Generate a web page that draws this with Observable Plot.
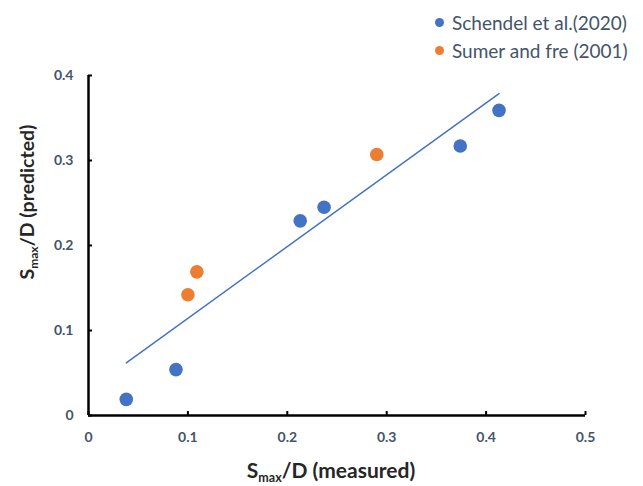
<!DOCTYPE html>
<html>
<head>
<meta charset="utf-8">
<script src="https://cdn.jsdelivr.net/npm/d3@7"></script>
<script src="https://cdn.jsdelivr.net/npm/@observablehq/plot@0.6"></script>
<style>
  body { margin: 0; background: #fff; }
  #chart { position: relative; width: 643px; height: 486px; }
  .legend { position: absolute; left: 435px; top: 8px; font: 19px Lato, sans-serif; color: #44546a; }
  .legend .row { display: flex; align-items: center; height: 28px; }
  .legend .sw { width: 9px; height: 9px; border-radius: 50%; margin-right: 8px; }
</style>
</head>
<body>
<div id="chart"></div>
<script>
// Measured vs predicted relative scour depth, two data sources
const schendelMeasured  = [0.038, 0.088, 0.213, 0.237, 0.374, 0.413];
const schendelPredicted = [0.019, 0.054, 0.229, 0.245, 0.317, 0.359];
const sumerMeasured     = [0.100, 0.109, 0.290];
const sumerPredicted    = [0.142, 0.169, 0.307];

const seriesNames  = ["Schendel et al.(2020)", "Sumer and fre (2001)"];
const seriesColors = ["#4472c4", "#ed7d31"];

const xTicks = [0, 0.1, 0.2, 0.3, 0.4, 0.5];
const yTicks = [0, 0.1, 0.2, 0.3, 0.4];

const rows = [
  ...schendelMeasured.map((m, i) => ({measured: m, predicted: schendelPredicted[i], source: seriesNames[0]})),
  ...sumerMeasured.map((m, i) => ({measured: m, predicted: sumerPredicted[i], source: seriesNames[1]}))
];

const W = 643, H = 486;
const mL = 88, mR = 58, mT = 75, mB = 71;
const innerW = W - mL - mR, innerH = H - mT - mB;

const chart = Plot.plot({
  width: W,
  height: H,
  marginLeft: mL,
  marginRight: mR,
  marginTop: mT,
  marginBottom: mB,
  style: {fontFamily: "Lato, sans-serif", fontSize: "14px", fontWeight: "bold", background: "#fff"},
  x: {domain: [0, 0.5]},
  y: {domain: [0, 0.4]},
  color: {domain: seriesNames, range: seriesColors},
  marks: [
    Plot.axisX({ticks: xTicks, tickSize: 0, tickPadding: 17, tickFormat: d => String(d), color: "#44546a", label: null}),
    Plot.axisY({ticks: yTicks, tickSize: 0, tickPadding: 15, tickFormat: d => String(d), color: "#44546a", label: null}),
    // inward tick marks
    Plot.tickX(xTicks, {x: d => d, insetTop: innerH - 4, stroke: "#000", strokeWidth: 2}),
    Plot.tickY(yTicks, {y: d => d, insetRight: innerW - 4, stroke: "#000", strokeWidth: 2}),
    // axis lines
    Plot.ruleX([0], {stroke: "#000", strokeWidth: 2.5}),
    Plot.ruleY([0], {stroke: "#000", strokeWidth: 2.5}),
    // linear fit over all points
    Plot.linearRegressionY(rows, {x: "measured", y: "predicted", ci: 0, stroke: "#4472c4", strokeWidth: 1.5}),
    Plot.dot(rows, {x: "measured", y: "predicted", fill: "source", r: 6.8})
  ]
});

const svg = d3.select(chart);

function subTitle(sel, base, sub, rest, subSize, shift) {
  sel.append("tspan").text(base);
  sel.append("tspan").attr("font-size", subSize).attr("dy", shift).text(sub);
  sel.append("tspan").attr("dy", -shift).text(rest);
}

const xt = svg.append("text")
  .attr("x", 331).attr("y", 478)
  .attr("text-anchor", "middle")
  .attr("font-family", "Lato, sans-serif").attr("font-size", 21).attr("font-weight", "bold")
  .attr("fill", "#262626");
subTitle(xt, "S", "max", "/D (measured)", 12.5, 4);

const yt = svg.append("text")
  .attr("transform", "translate(34,202) rotate(-90)")
  .attr("text-anchor", "middle")
  .attr("font-family", "Lato, sans-serif").attr("font-size", 19.5).attr("font-weight", "bold")
  .attr("fill", "#262626");
subTitle(yt, "S", "max", "/D (predicted)", 12, 4);

const host = document.getElementById("chart");
host.appendChild(chart);

const legend = document.createElement("div");
legend.className = "legend";
seriesNames.forEach((name, i) => {
  const row = document.createElement("div");
  row.className = "row";
  const sw = document.createElement("span");
  sw.className = "sw";
  sw.style.background = seriesColors[i];
  const label = document.createElement("span");
  label.textContent = name;
  row.appendChild(sw);
  row.appendChild(label);
  legend.appendChild(row);
});
host.appendChild(legend);
</script>
</body>
</html>
